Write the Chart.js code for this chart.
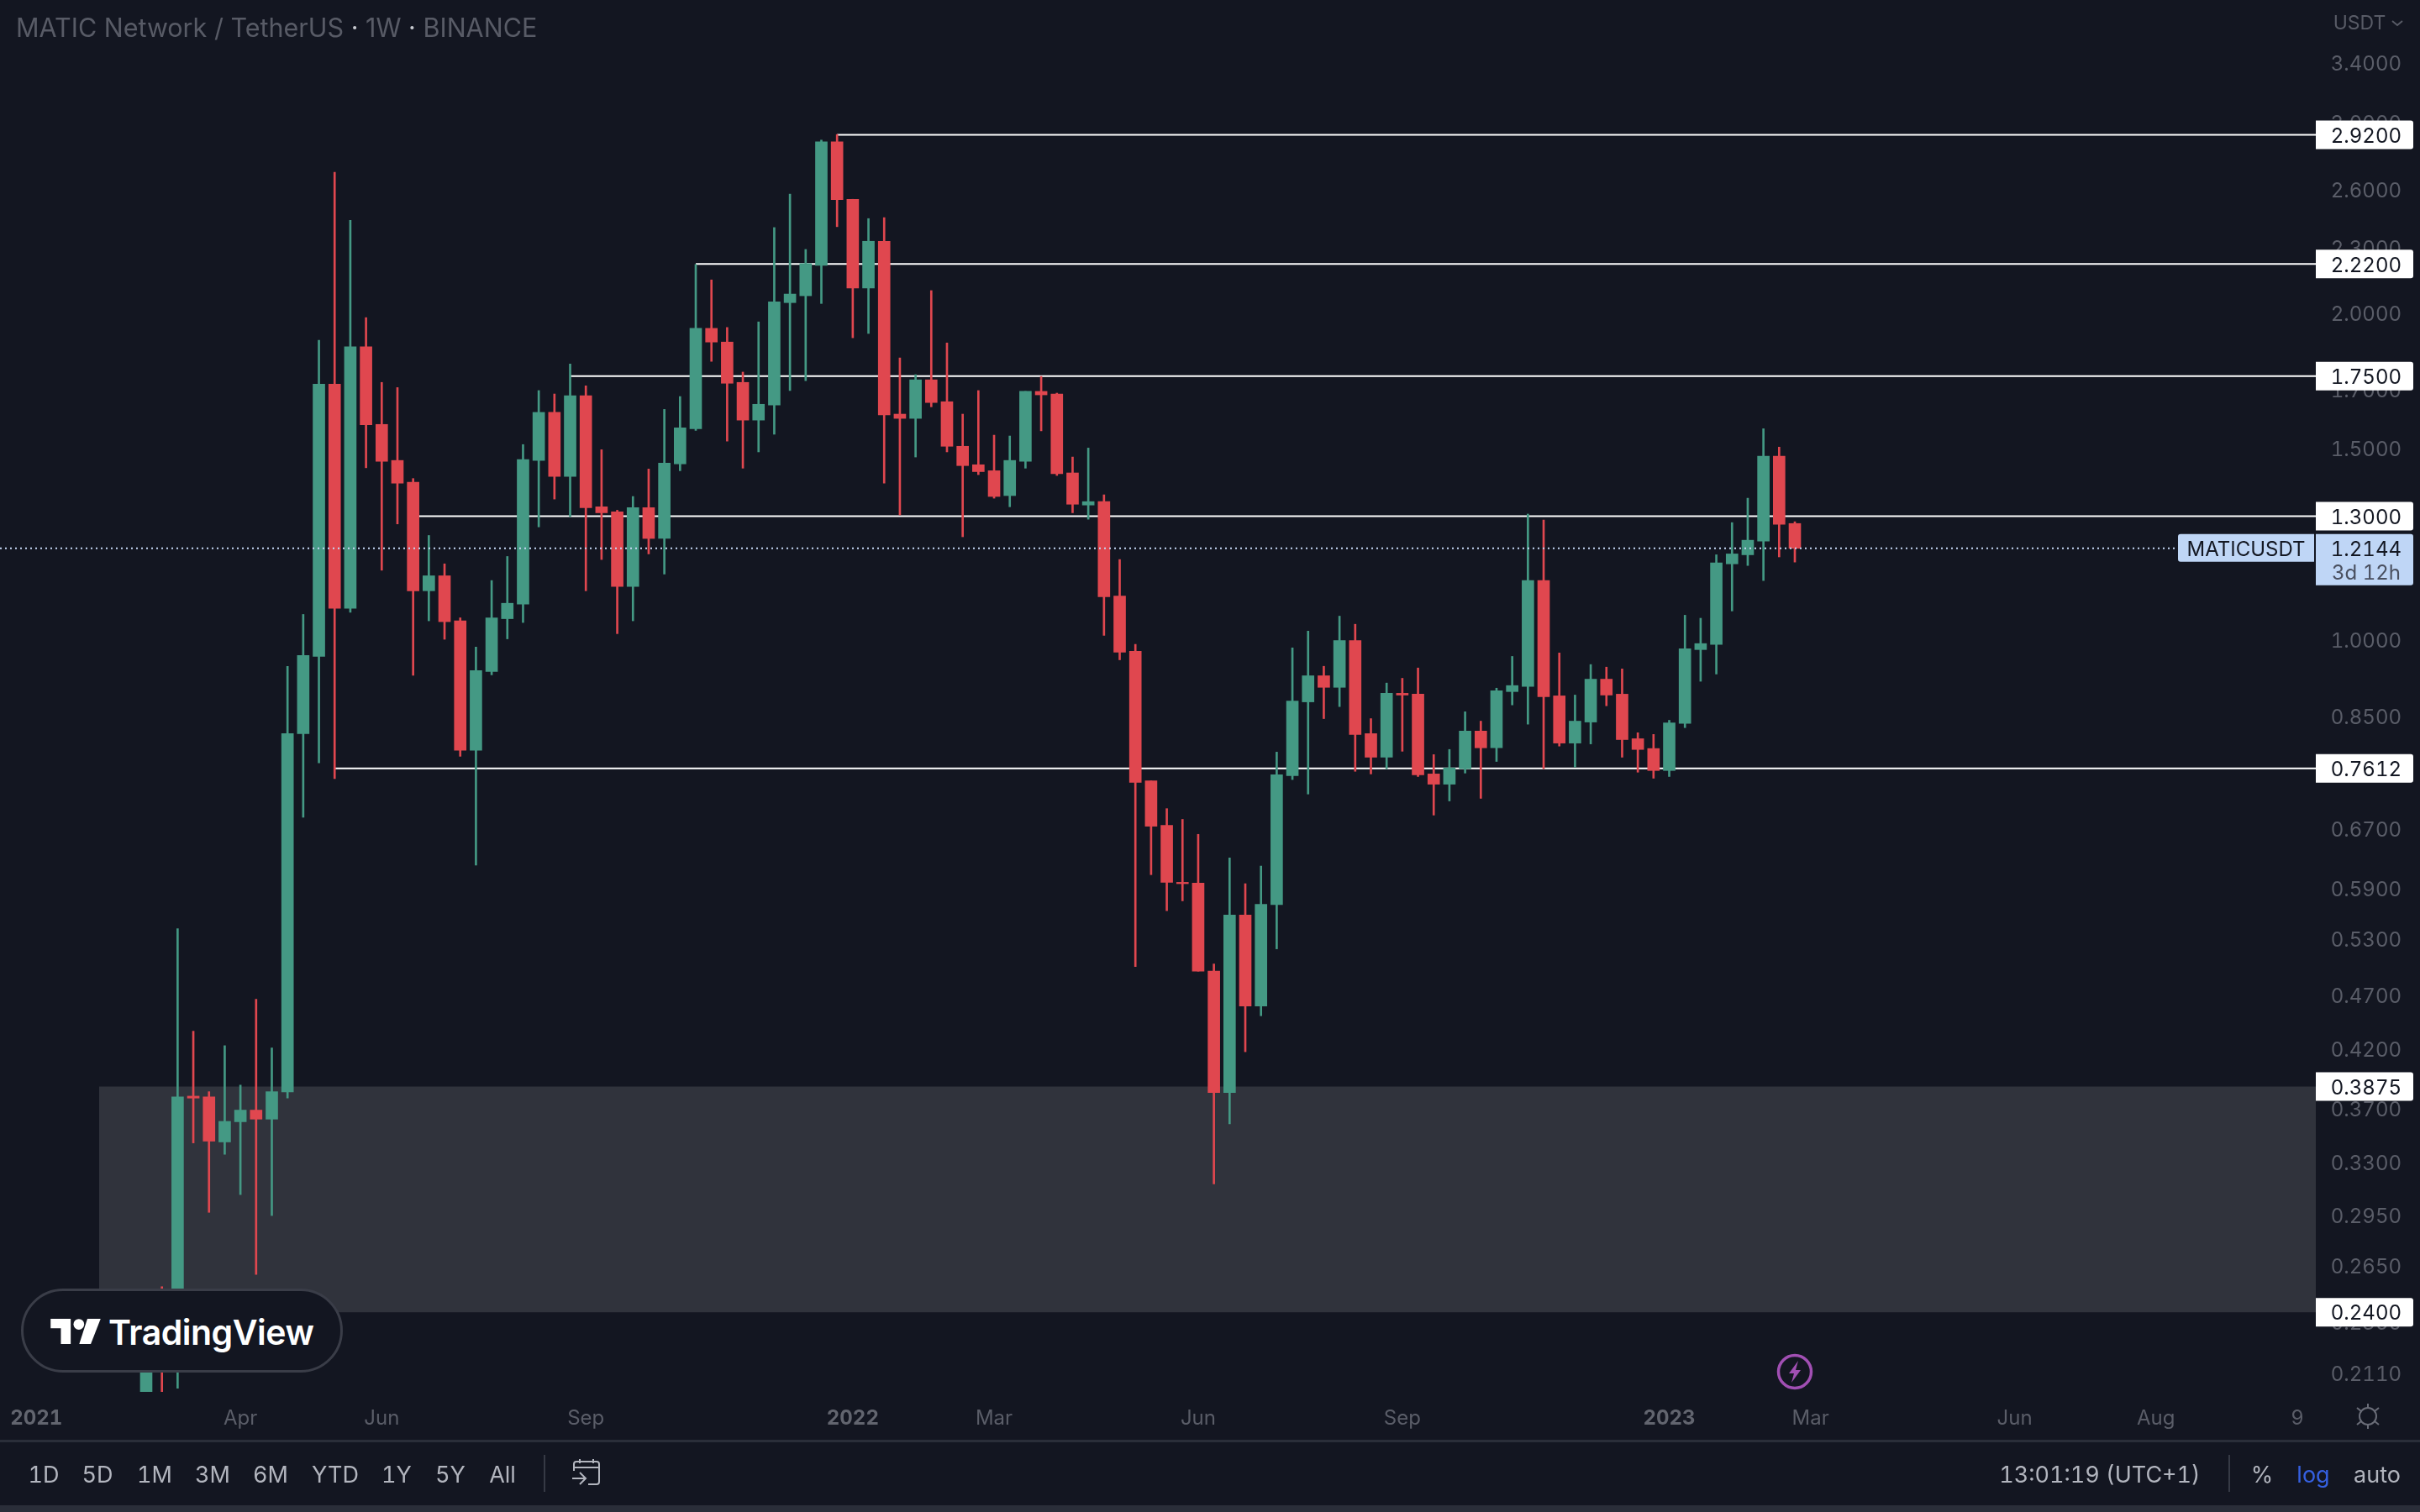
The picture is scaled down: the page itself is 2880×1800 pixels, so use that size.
<!DOCTYPE html>
<html>
<head>
<meta charset="utf-8">
<title>MATICUSDT 1W</title>
<script src="https://cdn.jsdelivr.net/npm/chart.js@4"></script>
<style>
    html, body { margin: 0; padding: 0; background: #131621; }
    #page { position: relative; width: 2880px; height: 1800px; overflow: hidden; background: #131621; font-family: Inter, sans-serif; font-feature-settings: 'tnum'; }
    #chart { position: absolute; left: 0; top: 0; }
    .txt { position: absolute; white-space: nowrap; line-height: 1; transform: translate(-50%, -50%); color: #b2b5be; font-size: 27px; }
    #title { position: absolute; left: 19px; top: 17px; font-size: 30.5px; line-height: 32px; color: #585b66; white-space: nowrap; font-feature-settings: normal; }
    #title b { font-weight: 400; color: #c8cad0; }
    #axisLine { position: absolute; left: 0; top: 1714px; width: 2880px; height: 3px; background: #2a2e39; }
    #bottomStrip { position: absolute; left: 0; top: 1792px; width: 2880px; height: 8px; background: #2a2e39; }
    .sep { position: absolute; top: 1732px; width: 2px; height: 44px; background: #363a45; }
    #logo { position: absolute; left: 25px; top: 1534px; width: 383px; height: 100px; box-sizing: border-box; border: 3px solid #3a3d48; border-radius: 50px; background: #131621; }
    #logoText { position: absolute; left: 129px; top: 1586px; transform: translateY(-50%); font-size: 41px; line-height: 1; font-weight: 600; color: #fff; letter-spacing: -0.5px; white-space: nowrap; font-feature-settings: normal; }
    svg { position: absolute; overflow: visible; }
</style>
</head>
<body>
<div id="page">
    <canvas id="chart" width="2880" height="1800"></canvas>

    <div id="title">MATIC Network / TetherUS <b>·</b> 1W <b>·</b> BINANCE</div>
    <div class="txt" style="left:2808px;top:27px;font-size:23px;color:#585b66">USDT</div>
    <svg style="left:2846px;top:24px" width="14" height="8"><path d="M1 1 L7 6 L13 1" fill="none" stroke="#585b66" stroke-width="2"/></svg>

    <div id="logo"></div>
    <svg style="left:60px;top:1570px" width="60" height="30" viewBox="118 1313 117 59">
        <path d="M118 1313 H165 V1372 H142 V1335 H118 Z" fill="#fff"/>
        <circle cx="184" cy="1326" r="12.5" fill="#fff"/>
        <path d="M204 1313 H235 L212 1372 H185 Z" fill="#fff"/>
    </svg>
    <div id="logoText">TradingView</div>

    <!-- purple flash marker -->
    <svg style="left:2114px;top:1611px" width="44" height="44" viewBox="0 0 44 44">
        <circle cx="22" cy="22" r="19.5" fill="none" stroke="#a14fb3" stroke-width="3.5"/>
        <path d="M26 9 L15 24 H21 L18 35 L29 20 H23 Z" fill="#a14fb3"/>
    </svg>

    <!-- settings sun -->
    <svg style="left:2802px;top:1670px" width="32" height="32" viewBox="0 0 32 32">
        <circle cx="16" cy="16" r="10" fill="none" stroke="#6a6d78" stroke-width="2"/>
        <path d="M16 1 V6 M16 26 V31 M3 6 L8 10 M29 6 L24 10 M3 26 L8 22 M29 26 L24 22" stroke="#6a6d78" stroke-width="2"/>
    </svg>

    <div id="axisLine"></div>
    <div id="bottomStrip"></div>
    <div class="sep" style="left:647px"></div>
    <div class="sep" style="left:2652px"></div>

    <!-- goto date icon -->
    <svg style="left:680px;top:1737px" width="36" height="32" viewBox="0 0 36 32">
        <path d="M3 14 V6 Q3 3 6 3 H30 Q33 3 33 6 V27 Q33 30 30 30 H20 M3 10 H33 M10 0 V5 M26 0 V5 M1 23 H16 M10 16 L17 23 L10 30" fill="none" stroke="#b2b5be" stroke-width="2"/>
    </svg>

    <div id="toolbar"></div>
</div>

<script>
// Candles, one week each, oldest first
const opens = [0.1995,0.2413,0.2184,0.3797,0.3791,0.3445,0.3596,0.3686,0.3616,0.3831,0.8195,0.9654,1.7207,1.0690,1.8625,1.5796,1.4633,1.3970,1.1097,1.1456,1.0412,0.7910,0.9351,1.0459,1.0787,1.4633,1.6205,1.4148,1.6790,1.3263,1.3119,1.1198,1.3238,1.2400,1.4527,1.5652,1.9368,1.8813,1.7269,1.5941,1.6457,2.0455,2.0755,2.2141,2.8777,2.5471,2.1098,2.3299,1.6145,1.5999,1.7364,1.6576,1.5080,1.4500,1.4317,1.3581,1.4606,1.6943,1.6850,1.4251,1.3312,1.3409,1.0975,0.9760,0.7414,0.6745,0.5977,0.5966,0.4950,0.3826,0.5577,0.4598,0.5700,0.7496,0.8766,0.9266,0.9041,0.9985,0.8195,0.7795,0.8927,0.8911,0.7523,0.7361,0.7606,0.8240,0.7952,0.8960,0.9058,1.1341,0.8879,0.8032,0.8399,0.9199,0.8911,0.8107,0.7940,0.7578,0.8376,0.9795,0.9903,1.1750,1.1978,1.2331,1.4767,1.2800];
const highs = [0.2436,0.2534,0.5416,0.4358,0.3833,0.4226,0.3887,0.4663,0.4206,0.9454,1.0554,1.8881,2.6976,2.4362,1.9814,1.7269,1.7081,1.4082,1.2479,1.1750,1.0478,0.9849,1.1341,1.1935,1.5135,1.6973,1.6850,1.7958,1.7143,1.4970,1.3166,1.3556,1.4369,1.6307,1.6759,2.2182,2.1466,1.9404,1.7652,1.9636,2.3988,2.5752,2.2900,2.8881,2.9225,2.5471,2.4449,2.4494,1.8190,1.7555,2.0984,1.8778,1.6145,1.6973,1.5440,1.5413,1.6943,1.7491,1.6881,1.4740,1.5024,1.3604,1.1858,0.9903,0.7414,0.6989,0.6831,0.6618,0.5027,0.6294,0.5960,0.6187,0.7880,0.9831,1.0187,0.9454,1.0516,1.0336,0.8460,0.9124,0.9216,0.9420,0.7838,0.7924,0.8584,0.8415,0.9025,0.9654,1.3060,1.2895,0.9725,0.8894,0.9489,0.9437,0.9402,0.8210,0.8181,0.8430,1.0536,1.0469,1.1978,1.2824,1.3507,1.5652,1.5053,1.2848];
const lows = [0.1995,0.1995,0.2043,0.3438,0.2967,0.3356,0.3081,0.2601,0.2947,0.3781,0.6862,0.7703,0.7448,1.0602,1.4408,1.1592,1.2789,0.9275,1.0412,1.0012,0.7810,0.6198,0.9284,1.0021,1.0375,1.2708,1.3482,1.2988,1.1097,1.1858,1.0132,1.0412,1.2000,1.1498,1.4317,1.5596,1.8058,1.5246,1.4395,1.4901,1.5470,1.6973,1.7333,2.0417,2.4032,1.8985,1.9159,1.3944,1.3035,1.4740,1.6397,1.4901,1.2445,1.4199,1.3507,1.3263,1.4395,1.5582,1.4174,1.3095,1.2917,1.0095,0.9585,0.4999,0.6075,0.5628,0.5747,0.4950,0.3152,0.3580,0.4172,0.4503,0.5190,0.7434,0.7209,0.8460,0.8679,0.7565,0.7523,0.7606,0.7894,0.7482,0.6894,0.7104,0.7537,0.7143,0.7725,0.8710,0.8361,0.7606,0.7981,0.7634,0.8018,0.8694,0.7795,0.7551,0.7455,0.7482,0.8300,0.9158,0.9300,1.0632,1.1709,1.1341,1.1924,1.1794];
const closes = [0.2392,0.2184,0.3791,0.3781,0.3451,0.3599,0.3686,0.3616,0.3833,0.8195,0.9672,1.7207,1.0690,1.8625,1.5782,1.4606,1.3944,1.1097,1.1456,1.0393,0.7910,0.9369,1.0478,1.0807,1.4659,1.6205,1.4148,1.6790,1.3238,1.3095,1.1198,1.3238,1.2400,1.4553,1.5682,1.9368,1.8813,1.7238,1.5941,1.6486,2.0492,2.0831,2.2221,2.8777,2.5449,2.1098,2.3299,1.6117,1.5999,1.7364,1.6547,1.5080,1.4474,1.4290,1.3556,1.4633,1.6943,1.6819,1.4225,1.3335,1.3409,1.0956,0.9742,0.7388,0.6733,0.5977,0.5960,0.4950,0.3826,0.5577,0.4598,0.5705,0.7509,0.8782,0.9266,0.9041,0.9985,0.8181,0.7795,0.8927,0.8894,0.7509,0.7361,0.7620,0.8240,0.7952,0.8976,0.9075,1.1341,0.8863,0.8032,0.8415,0.9199,0.8894,0.8092,0.7924,0.7578,0.8384,0.9814,0.9921,1.1773,1.2000,1.2354,1.4767,1.2778,1.2144];

// Axis labels
const yTicks = [3.4,3.0,2.6,2.3,2.0,1.7,1.5,1.3,1.15,1.0,0.85,0.76,0.67,0.59,0.53,0.47,0.42,0.37,0.33,0.295,0.265,0.235,0.211];
const xTickWeeks = [-7,6,15,28,45,54,67,80,97,106,119,128,137];
const xTickLabels = ['2021','Apr','Jun','Sep','2022','Mar','Jun','Sep','2023','Mar','Jun','Aug','9'];
const yearLabels = ['2021','2022','2023'];

// Drawn levels and the grey zone
const levelPrices = [2.92,2.22,1.75,1.3,0.7612];
const levelStartWeeks = [44,35,27,17,12];
const zoneTop = 0.3875;
const zoneBottom = 0.24;
const zoneStartWeek = -3;
const lastPrice = 1.2144;
const lastPriceEndWeek = 129.2;

// Visible range of the scales
const weekMin = -9.312;
const weekMax = 138.18;
const priceMin = 0.2027;
const priceMax = 3.888;

// Toolbar text, [label, centre x, colour]
const toolbarItems = [
    ['1D',52],['5D',116],['1M',184],['3M',253],['6M',322],['YTD',399],['1Y',472],['5Y',536],['All',598],
    ['13:01:19 (UTC+1)',2499],['%',2692],['log',2753,'#3560e0'],['auto',2829]
];

const UP_COLOR = '#449984';
const DOWN_COLOR = '#e0474f';
const FONT = 'Inter, sans-serif';
const TICK_COLOR = '#5a5d68';

// Toolbar labels
const toolbar = document.getElementById('toolbar');
toolbarItems.forEach(item => {
    const el = document.createElement('div');
    el.className = 'txt';
    el.textContent = item[0];
    el.style.left = item[1] + 'px';
    el.style.top = '1755px';
    if (item[2]) el.style.color = item[2];
    toolbar.appendChild(el);
});

const candleColors = opens.map((o, i) => closes[i] >= o ? UP_COLOR : DOWN_COLOR);

function hLine(y, fromWeek, toWeek) {
    return [{ x: fromWeek, y: y }, { x: toWeek, y: y }];
}

// Price labels on the right axis, on top of the tick text
const priceLabels = {
    id: 'priceLabels',
    afterDraw(chart) {
        const ctx = chart.ctx;
        const yScale = chart.scales.y;
        ctx.save();
        ctx.font = '24px ' + FONT;
        ctx.textBaseline = 'middle';

        levelPrices.concat([zoneTop, zoneBottom]).forEach(price => {
            const y = yScale.getPixelForValue(price);
            ctx.fillStyle = '#ffffff';
            ctx.beginPath();
            ctx.roundRect(2756, y - 17, 116, 34, [0, 3, 3, 0]);
            ctx.fill();
            ctx.fillStyle = '#131722';
            ctx.textAlign = 'right';
            ctx.fillText(price.toFixed(4), 2858, y + 2);
        });

        // Current price and symbol tag
        const y = yScale.getPixelForValue(lastPrice);
        ctx.fillStyle = '#bfd6f6';
        ctx.beginPath();
        ctx.roundRect(2756, y - 17, 116, 61, [0, 3, 3, 0]);
        ctx.fill();
        ctx.beginPath();
        ctx.roundRect(2592, y - 17, 162, 33, [3, 0, 0, 3]);
        ctx.fill();
        ctx.fillStyle = '#131722';
        ctx.fillText(lastPrice.toFixed(4), 2858, y + 2);
        ctx.textAlign = 'center';
        ctx.fillText('MATICUSDT', 2673, y + 2);
        ctx.textAlign = 'right';
        ctx.fillStyle = '#4a5060';
        ctx.fillText('3d 12h', 2857, y + 30);
        ctx.restore();
    }
};

const levelDatasets = levelPrices.map((price, i) => ({
    type: 'line',
    data: hLine(price, levelStartWeeks[i], weekMax),
    borderColor: '#ffffff',
    borderWidth: 2,
    pointRadius: 0,
    order: 5
}));

new Chart(document.getElementById('chart'), {
    type: 'bar',
    data: {
        datasets: [
            // Grey zone between two invisible lines
            {
                type: 'line',
                data: hLine(zoneTop, zoneStartWeek, weekMax),
                borderWidth: 0,
                pointRadius: 0,
                backgroundColor: '#30333c',
                fill: '+1',
                order: 9
            },
            {
                type: 'line',
                data: hLine(zoneBottom, zoneStartWeek, weekMax),
                borderWidth: 0,
                pointRadius: 0,
                fill: false,
                order: 9
            },
            ...levelDatasets,
            // Wicks
            {
                data: lows.map((l, i) => ({ x: i, y: [l, highs[i]] })),
                backgroundColor: candleColors,
                barThickness: 2,
                grouped: false,
                order: 3
            },
            // Bodies
            {
                data: opens.map((o, i) => ({ x: i, y: [o, closes[i]] })),
                backgroundColor: candleColors,
                barThickness: 14,
                grouped: false,
                order: 2
            },
            // Dotted last price line
            {
                type: 'line',
                data: hLine(lastPrice, weekMin, lastPriceEndWeek),
                borderColor: '#c6d8f5',
                borderWidth: 2,
                borderDash: [2, 4],
                pointRadius: 0,
                order: 1
            }
        ]
    },
    options: {
        responsive: false,
        animation: false,
        devicePixelRatio: 1,
        layout: { padding: { left: 0, top: 0, right: 22, bottom: 0 } },
        plugins: {
            legend: { display: false },
            tooltip: { enabled: false }
        },
        events: [],
        scales: {
            x: {
                type: 'linear',
                min: weekMin,
                max: weekMax,
                offset: false,
                bounds: 'data',
                grid: { display: false, drawTicks: false, offset: false },
                border: { display: false },
                afterBuildTicks(scale) {
                    scale.ticks = xTickWeeks.map(v => ({ value: v }));
                },
                afterFit(scale) {
                    scale.height = 143;
                    scale.paddingLeft = 0;
                    scale.paddingRight = 0;
                },
                ticks: {
                    autoSkip: false,
                    maxRotation: 0,
                    includeBounds: false,
                    padding: 17,
                    color: ctx => yearLabels.includes(xTickLabels[ctx.index]) ? '#62656f' : TICK_COLOR,
                    font: ctx => ({
                        family: FONT,
                        size: 24,
                        weight: yearLabels.includes(xTickLabels[ctx.index]) ? '700' : '400'
                    }),
                    callback: (value, index) => xTickLabels[index]
                }
            },
            y: {
                type: 'logarithmic',
                position: 'right',
                min: priceMin,
                max: priceMax,
                bounds: 'data',
                beginAtZero: false,
                grid: { display: false, drawTicks: false },
                border: { display: false },
                afterBuildTicks(scale) {
                    scale.ticks = yTicks.map(v => ({ value: v }));
                },
                afterFit(scale) {
                    scale.width = 102;
                    scale.paddingTop = 0;
                    scale.paddingBottom = 0;
                },
                ticks: {
                    autoSkip: false,
                    crossAlign: 'far',
                    padding: 0,
                    color: TICK_COLOR,
                    font: { family: FONT, size: 24, lineHeight: '4px' },
                    // empty first line pushes the text down by half the line height
                    callback: value => ['', value.toFixed(4)]
                }
            }
        }
    },
    plugins: [priceLabels]
});
</script>
</body>
</html>
